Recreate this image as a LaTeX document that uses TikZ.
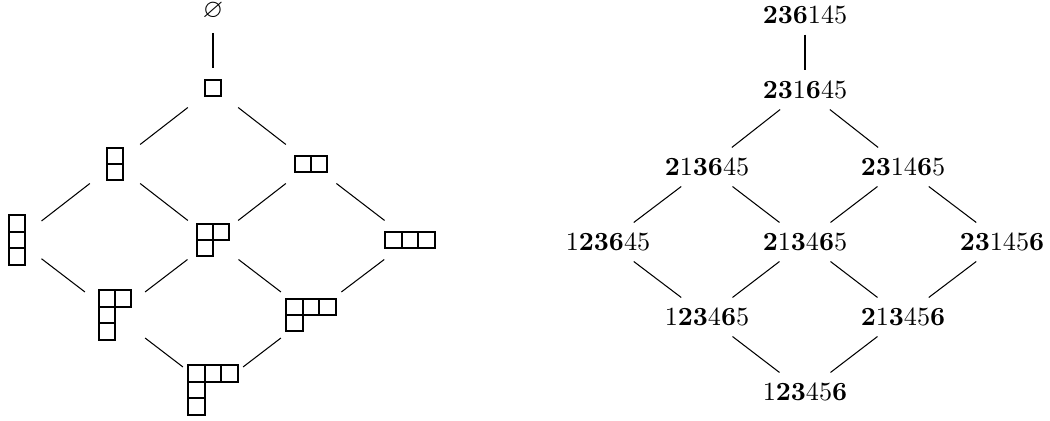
\documentclass[tikz,border=0pt]{standalone}
\usepackage{amssymb}
\newcommand\ydiag[4]{%
  \begin{scope}[shift={(#1)}]
    \foreach \r [count=\i from 0] in {#4} {
      \foreach \j in {1,...,\r} {
        \draw[ybox] ({(\j-1)*16.4-#2*8.2},{\i*16.4-#3*8.2}) rectangle ++(16.4,16.4);
      }
    }
  \end{scope}}
\begin{document}
\begin{tikzpicture}[x=0.3817pt,y=-0.3817pt,
  yd/.style={inner sep=0pt, minimum width=19.85pt, minimum height=14.5pt},
  ydbig/.style={inner sep=0pt, minimum width=22.9pt, minimum height=17.2pt},
  perm/.style={inner xsep=3pt, inner ysep=4.03pt, text height=6.44pt, text depth=0pt},
  link/.style={line width=0.4pt},
  ybox/.style={line width=0.7pt}]
\useasboundingbox (0,0) rectangle (1050,421);
% ---------- left: Young diagrams ----------
\node[inner sep=0pt] (e0) at (213,11) {$\varnothing$};
\node[yd] (e1) at (213,88) {};
\node[yd] (v2) at (115,164) {};
\node[yd] (h2) at (311,164) {};
\node[yd, minimum width=18.3pt] (v3) at (17,240) {};
\node[yd] (s21) at (213,240) {};
\node[yd] (h3) at (410,240) {};
\node[ydbig] (s211) at (115,315) {};
\node[ydbig] (s31) at (311,315) {};
\node[ydbig] (s311) at (213,390) {};
\ydiag{e1}{1}{1}{1}
\ydiag{v2}{1}{2}{1,1}
\ydiag{h2}{2}{1}{2}
\ydiag{v3}{1}{3}{1,1,1}
\ydiag{s21}{2}{2}{2,1}
\ydiag{h3}{3}{1}{3}
\ydiag{s211}{2}{3}{2,1,1}
\ydiag{s31}{3}{2}{3,1}
\ydiag{s311}{3}{3}{3,1,1}
\draw[link, shorten <=4.8pt] (e0) -- (e1);
\draw[link] (e1) -- (v2);
\draw[link] (e1) -- (h2);
\draw[link] (v2) -- (v3);
\draw[link] (v2) -- (s21);
\draw[link] (h2) -- (s21);
\draw[link] (h2) -- (h3);
\draw[link] (v3) -- (s211);
\draw[link] (s21) -- (s211);
\draw[link] (s21) -- (s31);
\draw[link] (h3) -- (s31);
\draw[link] (s211) -- (s311);
\draw[link] (s31) -- (s311);
% ---------- right: permutations ----------
\node[perm] (r0) at (805,15) {\textbf{236}145};
\node[perm] (r1) at (805,90) {\textbf{23}1\textbf{6}45};
\node[perm] (r2a) at (707,167) {\textbf{2}1\textbf{36}45};
\node[perm] (r2b) at (903,167) {\textbf{23}14\textbf{6}5};
\node[perm] (r3a) at (608,242) {1\textbf{236}45};
\node[perm] (r3b) at (805,242) {\textbf{2}1\textbf{3}4\textbf{6}5};
\node[perm] (r3c) at (1002,242) {\textbf{23}145\textbf{6}};
\node[perm] (r4a) at (707,317) {1\textbf{23}4\textbf{6}5};
\node[perm] (r4b) at (903,317) {\textbf{2}1\textbf{3}45\textbf{6}};
\node[perm] (r5) at (805,392) {1\textbf{23}45\textbf{6}};
\draw[link] (r0) -- (r1);
\draw[link] (r1) -- (r2a);
\draw[link] (r1) -- (r2b);
\draw[link] (r2a) -- (r3a);
\draw[link] (r2a) -- (r3b);
\draw[link] (r2b) -- (r3b);
\draw[link] (r2b) -- (r3c);
\draw[link] (r3a) -- (r4a);
\draw[link] (r3b) -- (r4a);
\draw[link] (r3b) -- (r4b);
\draw[link] (r3c) -- (r4b);
\draw[link] (r4a) -- (r5);
\draw[link] (r4b) -- (r5);
\end{tikzpicture}
\end{document}
